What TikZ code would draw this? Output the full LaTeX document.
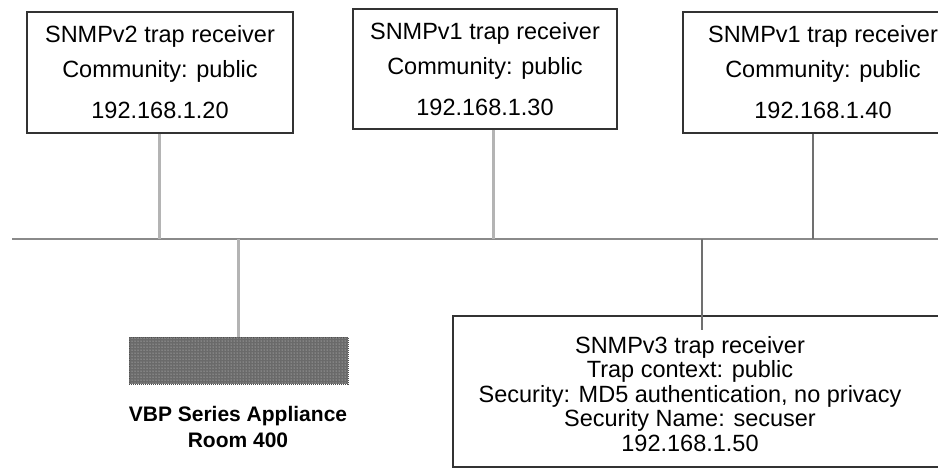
\documentclass[tikz,border=0pt]{standalone}
\usepackage{fontspec}
\setmainfont{Liberation Sans}
\usetikzlibrary{patterns}
\definecolor{boxline}{HTML}{333333}
\definecolor{lightconn}{HTML}{B4B4B4}
\definecolor{darkconn}{HTML}{707070}
\definecolor{busline}{HTML}{8A8A8A}
\definecolor{appfill}{HTML}{6A6A6A}
\tikzset{
  recvbox/.style={draw=boxline, line width=1.8pt, fill=white, inner sep=0pt, align=center,
    font=\fontsize{23.5}{35}\selectfont},
  lightlink/.style={draw=lightconn, line width=3pt},
  darklink/.style={draw=darkconn, line width=1.8pt},
  buslink/.style={draw=busline, line width=2pt},
  appliance/.style={draw=black!70, densely dotted, line width=1pt, fill=appfill,
    postaction={pattern=dots, pattern color=white!85!black}},
  bigtext/.style={align=center, inner sep=0pt},
}
\begin{document}
\begin{tikzpicture}[x=1pt, y=-1pt]
\useasboundingbox (0,0) rectangle (938,467);
\clip (0,0) rectangle (938,467);
\fill[white] (0,0) rectangle (938,467);

% bus
\coordinate (busL) at (12,239);
\coordinate (busR) at (940,239);
\draw[buslink] (busL) -- (busR);

% top receivers
\node[recvbox, minimum width=266pt, minimum height=121pt] (r2) at (160,72.5)
  {SNMPv2 trap receiver\\Community: public\\[6pt]192.168.1.20};
\node[recvbox, minimum width=264pt, minimum height=120pt] (r1a) at (485,69)
  {SNMPv1 trap receiver\\Community: public\\[6pt]192.168.1.30};
\node[recvbox, minimum width=280pt, minimum height=121pt] (r1b) at (823,72.5)
  {SNMPv1 trap receiver\\Community: public\\[6pt]192.168.1.40};

\coordinate (t2) at (159,239);
\coordinate (t1a) at (493,239);
\coordinate (t1b) at (813,239);
\draw[lightlink] (t2 |- r2.south) -- (t2);
\draw[lightlink] (t1a |- r1a.south) -- (t1a);
\draw[darklink] (t1b |- r1b.south) -- (t1b);

% appliance
\node[appliance, minimum width=219pt, minimum height=47pt, inner sep=0pt] (app) at (238.5,360.5) {};
\coordinate (tapp) at (238,239);
\draw[lightlink] (tapp) -- (tapp |- app.north);
\node[bigtext, font=\fontsize{21}{26}\selectfont\bfseries] (applabel) at (238,427)
  {VBP Series Appliance\\Room 400};

% SNMPv3 receiver
\node[draw=boxline, line width=1.5pt, fill=white, minimum width=500pt, minimum height=151pt, inner sep=0pt] (r3) at (703,391.5) {};
\node[bigtext, font=\fontsize{23.5}{24.5}\selectfont] (r3text) at (690,394)
  {SNMPv3 trap receiver\\Trap context: public\\Security: MD5 authentication, no privacy\\Security Name: secuser\\192.168.1.50};
\coordinate (t3) at (702,239);
\coordinate (t3end) at (702,330);
\draw[darklink] (t3) -- (t3end);
\end{tikzpicture}
\end{document}
